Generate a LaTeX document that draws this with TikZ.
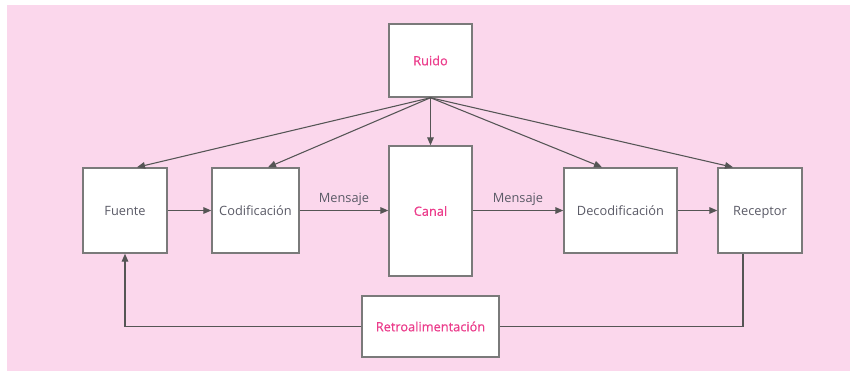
\documentclass[tikz,border=0pt]{standalone}
\usepackage{fontspec}
\setmainfont{Open Sans}
\newfontfamily\semib[FakeBold=0.5]{Open Sans}
\usetikzlibrary{arrows.meta,calc}
\definecolor{bgpink}{HTML}{FBD7EC}
\definecolor{txtgray}{HTML}{5A5A66}
\definecolor{txtpink}{HTML}{EC3D8C}
\definecolor{linegray}{HTML}{555555}
\definecolor{boxgray}{HTML}{7A7A7A}
\begin{document}
\begin{tikzpicture}[x=0.75pt,y=-0.75pt,
  box/.style={draw=boxgray,line width=1.1pt,fill=white,inner sep=0pt,
    text height=1.6ex,text depth=0.25ex,
    font=\fontsize{9.6}{11}\selectfont,text=txtgray},
  keybox/.style={box,text=txtpink,font=\fontsize{9.6}{11}\semib},
  conn/.style={draw=linegray,line width=0.8pt,-{Triangle[length=6pt,width=5pt]}},
  plain/.style={draw=linegray,line width=0.8pt},
  lbl/.style={font=\fontsize{9.6}{11}\selectfont,text=txtgray,above,inner sep=3pt}]
\useasboundingbox (0,0) rectangle (850,371);
\fill[bgpink] (7,5) rectangle (850,371);
\node[keybox,minimum width=83*0.75pt,minimum height=73*0.75pt] (ruido) at (430.5,60.5) {Ruido};
\node[box,minimum width=84*0.75pt,minimum height=85*0.75pt] (fuente) at (125,210.5) {Fuente};
\node[box,minimum width=87*0.75pt,minimum height=85*0.75pt] (cod) at (255.5,210.5) {Codificación};
\node[keybox,minimum width=83*0.75pt,minimum height=130*0.75pt] (canal) at (430.5,211) {Canal};
\node[box,minimum width=113*0.75pt,minimum height=85*0.75pt] (dec) at (620.5,210.5) {Decodificación};
\node[box,minimum width=84*0.75pt,minimum height=85*0.75pt] (rec) at (760,210.5) {Receptor};
\node[keybox,minimum width=137*0.75pt,minimum height=61*0.75pt] (retro) at (430.5,326.5) {Retroalimentación};
% noise arrows
\draw[conn] (ruido.south) -- ($(fuente.north)+(12,0)$);
\draw[conn] (ruido.south) -- ($(cod.north)+(12.5,0)$);
\draw[conn] (ruido.south) -- (canal.north);
\draw[conn] (ruido.south) -- ($(dec.north)+(-18.5,0)$);
\draw[conn] (ruido.south) -- ($(rec.north)+(-27,0)$);
% main chain
\draw[conn] (fuente.east) -- (cod.west);
\draw[conn] (cod.east) -- node[lbl] {Mensaje} (canal.west |- cod.east);
\draw[conn] (canal.east |- dec.west) -- node[lbl] {Mensaje} (dec.west);
\draw[conn] (dec.east) -- (rec.west);
% feedback
\coordinate (rb) at ($(rec.south)+(-17,0)$);
\draw[plain] (rb) |- (retro.east);
\draw[conn] (retro.west) -| (fuente.south);
\end{tikzpicture}
\end{document}
